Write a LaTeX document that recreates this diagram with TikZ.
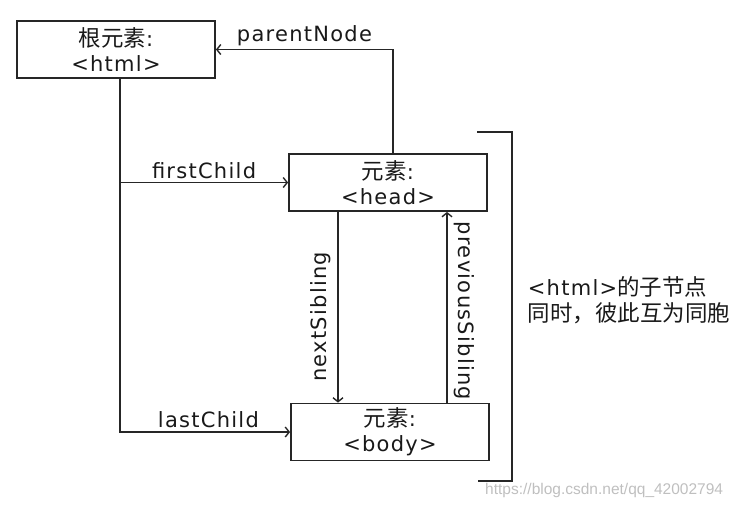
\documentclass[tikz,border=0pt]{standalone}
\usepackage{fontspec}
\setmainfont{DejaVu Sans}[LetterSpace=6]
\newfontfamily\cjk{Noto Sans CJK SC}[Scale=1.07]
\newfontfamily\wmfont{Liberation Sans}
\usepackage{tikz}
\usetikzlibrary{arrows.meta}

\begin{document}
\begin{tikzpicture}[x=1pt, y=-1pt, line width=1.8pt, black!85,
    >={Straight Barb[length=4pt,width=10pt,line width=1.4pt]},
    elem/.style={draw, rectangle, minimum width=198pt, minimum height=57pt,
      inner sep=0pt, align=center, text=black!90,
      font=\fontsize{21}{25}\selectfont},
    lbl/.style={text=black!90, font=\fontsize{21}{25}\selectfont, inner sep=3pt}]
  \useasboundingbox (0,0) rectangle (735,507);
  % elements
  \node[elem] (html) at (116,49.5) {{\cjk 根元素}:\\<html>};
  \node[elem] (head) at (388,182.5) {{\cjk 元素}:\\<head>};
  \node[elem] (body) at (390,432) {{\cjk 元素}:\\<body>};
  \coordinate (trunk) at ([xshift=4pt]html.south);
  \coordinate (nx) at (338,0);
  \coordinate (px) at (447,0);
  % links
  \draw[->] ([xshift=5pt]head.north) |- (html.east)
    node[lbl, pos=0.75, above] {parentNode};
  \draw[->] (trunk |- head.west) -- (head.west)
    node[lbl, midway, above] {firstChild};
  \draw[->] (trunk) |- (body.west)
    node[lbl, pos=0.76, above] {lastChild};
  \draw[->] (head.south -| nx) -- (body.north -| nx)
    node[lbl, pos=0.55, rotate=90, anchor=south, inner sep=6pt] {nextSibling};
  \draw[->] (body.north -| px) -- (head.south -| px)
    node[lbl, pos=0.48, rotate=-90, anchor=south, inner sep=6pt] {previousSibling};
  % bracket
  \draw (477,132) -- (512,132) -- (512,481) -- (478,481);
  \node[lbl, anchor=west, align=left, font=\fontsize{21}{26}\selectfont] (note)
    at (524,300) {<html>{\cjk 的子节点}\\{\cjk 同时，彼此互为同胞}};
  \node[anchor=west, text=black!25, font=\wmfont\fontsize{15.5}{18}\selectfont]
    (mark) at (481,490) {https://blog.csdn.net/qq\_42002794};
\end{tikzpicture}
\end{document}
